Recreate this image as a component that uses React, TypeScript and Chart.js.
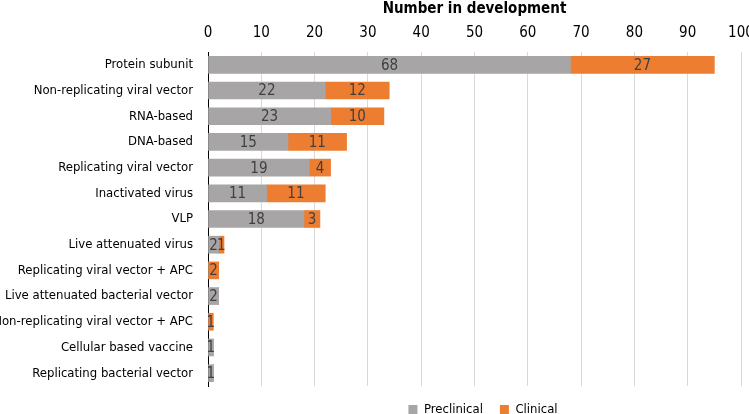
import React, { useEffect, useRef } from "react";
import { Chart, registerables } from "chart.js";

Chart.register(...registerables);

const categories = [
  "Protein subunit",
  "Non-replicating viral vector",
  "RNA-based",
  "DNA-based",
  "Replicating viral vector",
  "Inactivated virus",
  "VLP",
  "Live attenuated virus",
  "Replicating viral vector + APC",
  "Live attenuated bacterial vector",
  "Non-replicating viral vector + APC",
  "Cellular based vaccine",
  "Replicating bacterial vector",
];
const preclinical = [68, 22, 23, 15, 19, 11, 18, 2, 0, 2, 0, 1, 1];
const clinical = [27, 12, 10, 11, 4, 11, 3, 1, 2, 0, 1, 0, 0];
const xTicks = [0, 10, 20, 30, 40, 50, 60, 70, 80, 90, 100];

const FONT = "'Liberation Sans Narrow', 'DejaVu Sans Condensed', sans-serif";

const labelPlugin = {
  id: "barLabels",
  afterDatasetsDraw(chart: any) {
    const ctx = chart.ctx;
    ctx.save();
    ctx.font = `15px ${FONT}`;
    ctx.fillStyle = "#404040";
    ctx.textAlign = "center";
    ctx.textBaseline = "middle";
    chart.data.datasets.forEach((ds: any, di: number) => {
      const meta = chart.getDatasetMeta(di);
      meta.data.forEach((el: any, i: number) => {
        const v = ds.data[i];
        if (!v) return;
        const p = el.getCenterPoint();
        ctx.fillText(String(v), p.x, p.y + 1);
      });
    });
    ctx.restore();
  },
};

const legendShift = {
  id: "legendShift",
  afterLayout(chart: any) {
    const lg = chart.legend;
    if (!lg) return;
    lg.left = 208;
    lg.right = 758;
    lg.width = 550;
  },
};

export default function App() {
  const ref = useRef<HTMLCanvasElement>(null);
  useEffect(() => {
    if (!ref.current) return;
    const chart = new Chart(ref.current, {
      type: "bar",
      data: {
        labels: categories,
        datasets: [
          { label: "Preclinical", data: preclinical, backgroundColor: "#A7A5A6", barThickness: 17 },
          { label: "Clinical", data: clinical, backgroundColor: "#ED7D31", barThickness: 17 },
        ],
      },
      plugins: [labelPlugin, legendShift],
      options: {
        indexAxis: "y",
        animation: false,
        responsive: true,
        maintainAspectRatio: false,
        layout: { padding: { left: 0, right: 29, top: 0, bottom: -12 } },
        scales: {
          x: {
            position: "top",
            stacked: true,
            min: 0,
            max: 100,
            afterBuildTicks: (s: any) => {
              s.ticks = xTicks.map((v) => ({ value: v }));
            },
            afterFit: (s: any) => {
              s.height = 52;
            },
            border: { display: false },
            grid: {
              color: (c: any) => (c.tick && c.tick.value === 0 ? "#000000" : "#D9D9D9"),
              drawTicks: false,
            },
            ticks: { color: "#000", font: { family: FONT, size: 15 }, padding: 10 },
            title: {
              display: true,
              text: "Number in development",
              color: "#000",
              font: { family: FONT, size: 15, weight: "bold" },
              padding: { top: 0, bottom: 4 },
            },
          },
          y: {
            stacked: true,
            afterFit: (s: any) => {
              s.width = 208;
            },
            border: { display: true, color: "#000" },
            grid: { display: false, drawTicks: false },
            ticks: { color: "#000", font: { family: FONT, size: 13 }, padding: 15 },
          },
        },
        plugins: {
          legend: {
            position: "bottom",
            labels: {
              boxWidth: 9,
              boxHeight: 9,
              color: "#000",
              font: { family: FONT, size: 13 },
              padding: 17,
            },
          },
          tooltip: { enabled: false },
        },
      },
    });
    return () => chart.destroy();
  }, []);
  return (
    <div style={{ position: "fixed", left: 0, top: 0, width: 749, height: 414, overflow: "hidden", background: "#fff" }}>
      <div style={{ width: 770, height: 414 }}>
        <canvas ref={ref} />
      </div>
    </div>
  );
}
